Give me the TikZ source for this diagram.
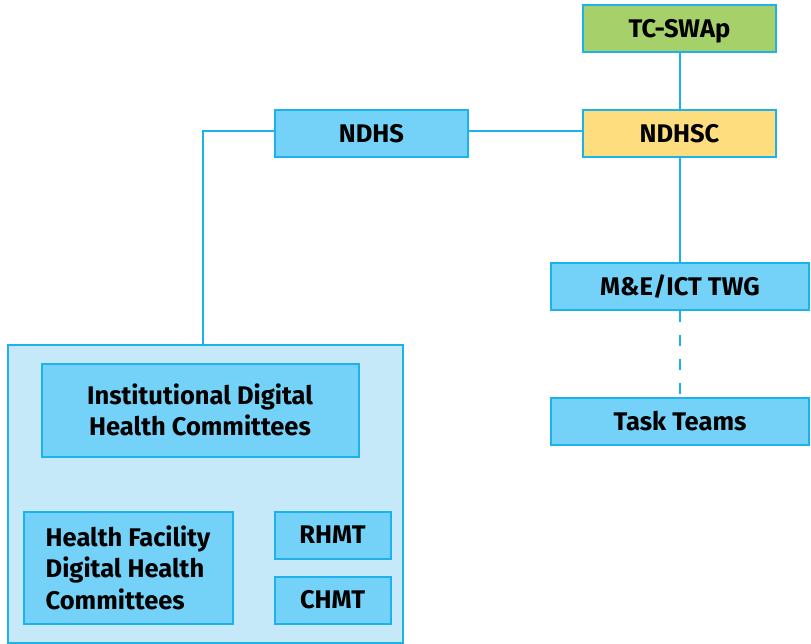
\documentclass[tikz,border=0pt]{standalone}
\usepackage{fontspec}
\setmainfont{Fira Sans}
\definecolor{edge}{HTML}{1DB3EA}
\definecolor{boxblue}{HTML}{74D1F7}
\definecolor{outerblue}{HTML}{C6E9F9}
\definecolor{boxgreen}{HTML}{A6D06A}
\definecolor{boxyellow}{HTML}{FEDD7E}
\tikzset{
  box/.style={draw=edge, line width=2pt, fill=boxblue, inner sep=0pt,
    font=\fontsize{25.5}{31.5}\selectfont\bfseries, text=black},
  oneline/.style={text height=17.6pt, text depth=0pt},
  link/.style={draw=edge, line width=2pt},
}
\begin{document}
\begin{tikzpicture}[x=1pt,y=-1pt]
\useasboundingbox (0,0) rectangle (811,644);
\node[box, oneline, fill=boxgreen, minimum width=193, minimum height=47] (tc) at (679.5,28.5) {TC-SWAp};
\node[box, oneline, fill=boxyellow, minimum width=193, minimum height=47] (ndhsc) at (679.5,133.5) {NDHSC};
\node[box, oneline, minimum width=193, minimum height=47] (ndhs) at (371.5,133.5) {NDHS};
\node[box, oneline, minimum width=258, minimum height=47] (twg) at (680,286.5) {M\&E/ICT TWG};
\node[box, oneline, minimum width=258, minimum height=47] (tt) at (680,421.5) {Task Teams};
\node[box, fill=outerblue, minimum width=395, minimum height=298] (outer) at (205,494) {};
\node[box, minimum width=317, minimum height=93, align=center] (inst) at (200,410) {Institutional Digital\\Health Committees};
\node[box, minimum width=209, minimum height=112, align=left] (hf) at (128,567.5) {Health Facility\\Digital Health\\Committees};
\node[box, oneline, minimum width=116, minimum height=47] (rhmt) at (332.5,535) {RHMT};
\node[box, oneline, minimum width=116, minimum height=47] (chmt) at (332.5,600) {CHMT};
\coordinate (bend) at (203,131);
\draw[link] (tc) -- (ndhsc);
\draw[link] (ndhs.east |- 0,131) -- (ndhsc.west |- 0,131);
\draw[link] (ndhs.west |- 0,131) -- (bend) -- (bend |- outer.north);
\draw[link] (ndhsc) -- (twg.north -| ndhsc);
\draw[link, dash pattern=on 11pt off 13pt] (twg.south -| ndhsc) -- (tt.north -| ndhsc);
\end{tikzpicture}
\end{document}
